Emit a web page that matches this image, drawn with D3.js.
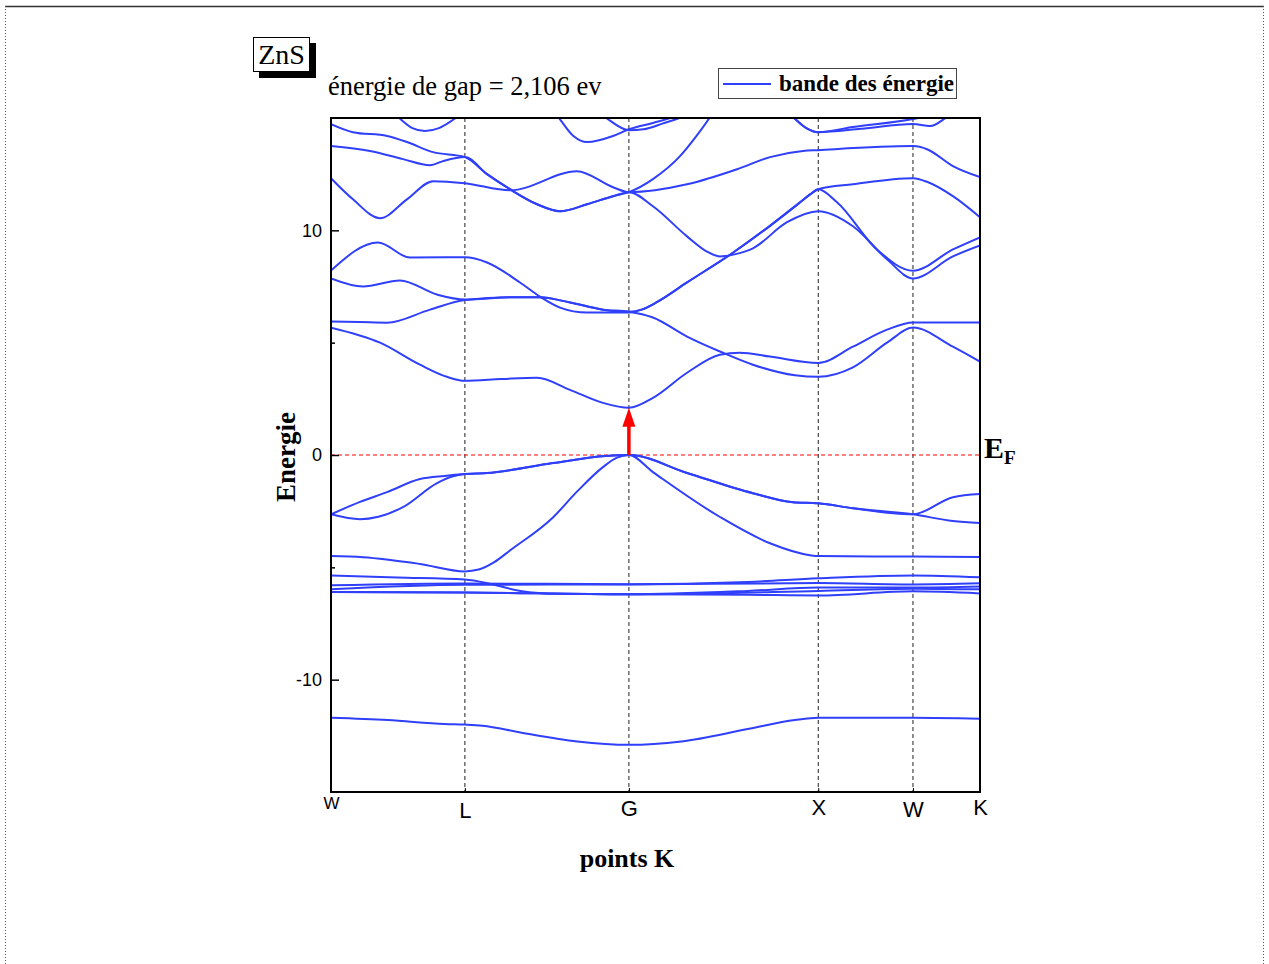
<!DOCTYPE html>
<html>
<head>
<meta charset="utf-8">
<script src="https://cdn.jsdelivr.net/npm/d3@7/dist/d3.min.js"></script>
<style>
  body { margin: 0; background: #fff; }
  svg { display: block; }
</style>
</head>
<body>
<svg id="bands" width="1269" height="964"></svg>
<script>
// high symmetry points along the path (units of 2pi/a)
const kTicks = [0, 0.707, 1.573, 2.573, 3.073, 3.427];
const kLabels = ["W", "L", "G", "X", "W", "K"];
const eTicks = [-10, 0, 10];
const eMinor = [-5, 5];
const gap = 2.106;

// bands : [k, E(eV)]
const bandS = [[0,-11.7],[0.3,-11.8],[0.6,-11.97],[0.707,-12.0],[0.8,-12.05],[1.0,-12.35],[1.3,-12.75],[1.573,-12.9],[1.85,-12.75],[2.2,-12.2],[2.45,-11.8],[2.573,-11.7],[3.073,-11.7],[3.427,-11.74]];

const bandD1 = [[0,-5.36],[0.35,-5.45],[0.707,-5.54],[0.85,-5.75],[1.0,-6.05],[1.2,-6.18],[1.573,-6.2],[2.2,-6.22],[2.573,-6.25],[3.073,-6.07],[3.427,-6.16]];
const bandD2 = [[0,-5.8],[0.707,-5.72],[1.573,-5.75],[2.2,-5.65],[2.573,-5.49],[3.073,-5.36],[3.427,-5.44]];
const bandD3 = [[0,-5.98],[0.707,-5.78],[1.573,-5.76],[2.573,-5.7],[3.073,-5.76],[3.427,-5.71]];
const bandD4 = [[0,-6.1],[0.707,-6.12],[1.573,-6.2],[2.2,-6.05],[2.573,-5.9],[3.073,-5.9],[3.427,-5.85]];
const bandD5 = [[0,-6.1],[0.707,-6.12],[1.573,-6.2],[2.573,-6.05],[3.073,-5.95],[3.427,-5.98]];

const bandV3 = [[0,-4.5],[0.169,-4.55],[0.47,-4.85],[0.707,-5.18],[0.78,-5.1],[0.86,-4.78],[0.95,-4.22],[1.172,-2.78],[1.3,-1.62],[1.436,-0.54],[1.51,-0.12],[1.573,0],[1.7,-0.76],[2.054,-2.76],[2.318,-3.93],[2.529,-4.46],[2.573,-4.5],[3.073,-4.52],[3.427,-4.54]];
const bandV2 = [[0,-2.64],[0.153,-2.86],[0.25,-2.75],[0.38,-2.32],[0.56,-1.25],[0.64,-0.96],[0.707,-0.85],[0.824,-0.8],[1.172,-0.36],[1.45,-0.04],[1.573,0],[1.88,-0.8],[2.228,-1.7],[2.439,-2.1],[2.573,-2.15],[2.756,-2.37],[3.073,-2.64],[3.284,-2.94],[3.427,-3.03]];
const bandV1 = [[0,-2.64],[0.15,-2.1],[0.296,-1.65],[0.47,-1.07],[0.6,-0.93],[0.707,-0.85],[0.824,-0.8],[1.172,-0.36],[1.45,-0.04],[1.573,0],[1.88,-0.8],[2.228,-1.7],[2.439,-2.1],[2.573,-2.15],[2.756,-2.37],[3.073,-2.64],[3.284,-1.88],[3.427,-1.74]];

const bandC1 = [[0,5.67],[0.259,5.0],[0.47,4.02],[0.612,3.48],[0.707,3.3],[0.9,3.38],[1.088,3.44],[1.262,2.9],[1.436,2.32],[1.573,2.1],[1.7,2.54],[1.88,3.66],[2.054,4.46],[2.159,4.55],[2.318,4.38],[2.573,4.1],[2.756,4.82],[2.936,5.58],[3.073,5.9],[3.427,5.9]];
const bandC2 = [[0,5.94],[0.15,5.92],[0.296,5.89],[0.523,6.47],[0.707,6.9],[0.95,7.02],[1.1,7.02],[1.262,6.79],[1.436,6.47],[1.573,6.38],[1.7,6.12],[1.88,5.27],[2.07,4.55],[2.228,4.02],[2.45,3.55],[2.573,3.48],[2.756,3.9],[2.936,5.0],[3.073,5.67],[3.284,4.82],[3.427,4.15]];
const bandC3 = [[0,7.86],[0.169,7.5],[0.364,7.77],[0.56,7.14],[0.707,6.92],[0.95,7.02],[1.1,7.02],[1.262,6.79],[1.436,6.47],[1.573,6.38],[1.64,6.47],[1.72,6.8],[1.88,7.68],[2.122,9.0],[2.318,10.2],[2.47,11.2],[2.53,11.6],[2.573,11.83],[2.756,12.05],[3.073,12.32],[3.15,12.15],[3.284,11.52],[3.427,10.58]];
const bandC4 = [[0,8.21],[0.248,9.46],[0.417,8.79],[0.707,8.8],[0.824,8.57],[0.998,7.68],[1.103,7.05],[1.209,6.56],[1.352,6.34],[1.573,6.34],[1.64,6.47],[1.72,6.8],[1.88,7.68],[2.122,9.0],[2.318,10.2],[2.47,11.2],[2.53,11.6],[2.573,11.83],[2.672,11.25],[2.883,9.15],[3.073,8.2],[3.284,9.15],[3.427,9.69]];
const bandC5 = [[0,13.75],[0.206,13.53],[0.38,13.17],[0.523,12.9],[0.591,13.08],[0.707,13.26],[0.824,12.5],[0.945,11.83],[1.088,11.16],[1.209,10.85],[1.352,11.16],[1.489,11.52],[1.573,11.7],[1.7,11.07],[1.88,9.73],[1.98,9.08],[2.054,8.84],[2.13,8.93],[2.228,9.2],[2.408,10.36],[2.573,10.85],[2.756,10.18],[2.936,8.71],[3.073,7.86],[3.284,8.84],[3.427,9.33]];
const bandC6 = [[0,12.32],[0.116,11.38],[0.259,10.54],[0.401,11.38],[0.539,12.19],[0.707,12.1],[0.945,11.78],[1.299,12.63],[1.489,11.92],[1.573,11.7],[1.88,12.05],[2.144,12.72],[2.318,13.26],[2.492,13.53],[2.573,13.57],[3.073,13.75],[3.15,13.6],[3.284,12.86],[3.427,12.37]];
const bandC7 = [[0,14.73],[0.116,14.37],[0.296,14.2],[0.401,13.93],[0.539,13.48],[0.707,13.26],[0.824,12.5],[0.945,11.83],[1.088,11.16],[1.209,10.85],[1.352,11.16],[1.489,11.52],[1.573,11.7],[1.7,12.28],[1.843,13.3],[1.93,14.2],[2.001,15.04],[2.1,16.5]];
const bandT1 = [[0.2,16.2],[0.354,15.04],[0.43,14.55],[0.496,14.42],[0.57,14.55],[0.665,15.04],[0.8,16],[1.0,16.3],[1.199,15.04],[1.28,14.2],[1.352,13.93],[1.489,14.2],[1.573,14.5],[1.7,14.78],[1.806,15.04],[1.95,15.6]];
const bandT2 = [[1.3,16],[1.447,15.04],[1.573,14.46],[1.65,14.5],[1.75,14.75],[1.85,15.04],[1.95,15.5]];
const bandT3 = [[2.3,16],[2.439,15.04],[2.51,14.55],[2.573,14.37],[2.756,14.6],[3.073,14.96],[3.15,15.1],[3.25,15.5]];
const bandT4 = [[2.3,16],[2.439,15.04],[2.51,14.55],[2.573,14.37],[2.8,14.52],[3.073,14.73],[3.163,14.64],[3.252,15.04],[3.35,15.6]];

const bands = [bandS, bandD1, bandD2, bandD3, bandD4, bandD5, bandV3, bandV2, bandV1,
               bandC1, bandC2, bandC3, bandC4, bandC5, bandC6, bandC7, bandT1, bandT2, bandT3, bandT4];

const blue = "#2f3ffa";
const serif = "'Liberation Serif','Times New Roman',serif";
const sans = "'Liberation Sans',Arial,sans-serif";

const svg = d3.select("#bands"),
      width = +svg.attr("width"),
      height = +svg.attr("height");

const margin = {left: 331, top: 118, right: 289, bottom: 172};
const w = width - margin.left - margin.right,
      h = height - margin.top - margin.bottom;

const x = d3.scaleLinear().domain([0, 3.427]).range([0, w]);
const y = d3.scaleLinear().domain([-15, 15]).range([h, 0]);

// page frame
svg.append("line").attr("x1", 5).attr("x2", 1264).attr("y1", 6.5).attr("y2", 6.5)
    .attr("stroke", "#333").attr("stroke-width", 1.5);
svg.append("line").attr("x1", 5.5).attr("x2", 5.5).attr("y1", 6).attr("y2", height)
    .attr("stroke", "#555").attr("stroke-dasharray", "1,2");
svg.append("line").attr("x1", 1263.5).attr("x2", 1263.5).attr("y1", 6).attr("y2", height)
    .attr("stroke", "#555").attr("stroke-dasharray", "1,2");

const g = svg.append("g").attr("transform", `translate(${margin.left},${margin.top})`);

g.append("clipPath").attr("id", "clip")
  .append("rect").attr("width", w).attr("height", h);

// vertical lines at high symmetry points
g.selectAll(".kline")
  .data(kTicks.slice(1, -1))
  .enter().append("line")
    .attr("x1", d => x(d)).attr("x2", d => x(d))
    .attr("y1", 0).attr("y2", h)
    .attr("stroke", "#222").attr("stroke-width", 1)
    .attr("stroke-dasharray", "4,3");

// Fermi level
g.append("line")
  .attr("x1", 0).attr("x2", w)
  .attr("y1", y(0)).attr("y2", y(0))
  .attr("stroke", "red").attr("stroke-width", 1)
  .attr("stroke-dasharray", "4,3");

const line = d3.line()
  .x(d => x(d[0]))
  .y(d => y(d[1]))
  .curve(d3.curveMonotoneX);

g.append("g").attr("clip-path", "url(#clip)")
  .selectAll("path")
  .data(bands)
  .enter().append("path")
    .attr("d", line)
    .attr("fill", "none")
    .attr("stroke", blue)
    .attr("stroke-width", 2);

// gap arrow
const ax = x(kTicks[2]);
g.append("line")
  .attr("x1", ax).attr("x2", ax)
  .attr("y1", y(0)).attr("y2", y(gap) + 14)
  .attr("stroke", "red").attr("stroke-width", 3.5);
g.append("path")
  .attr("d", `M${ax},${y(gap)} L${ax - 6.5},${y(gap) + 19} L${ax + 6.5},${y(gap) + 19} Z`)
  .attr("fill", "red");

// axes
const yAxis = g.append("g")
  .call(d3.axisLeft(y).tickValues(eTicks).tickSize(-8).tickPadding(9).tickFormat(d => String(d)));
yAxis.select(".domain").remove();
yAxis.selectAll("text").attr("font-family", sans).attr("font-size", 18).attr("fill", "#000");
yAxis.selectAll("line").attr("stroke-width", 1.5);

const yMinor = g.append("g")
  .call(d3.axisLeft(y).tickValues(eMinor).tickSize(-4).tickFormat(""));
yMinor.select(".domain").remove();
yMinor.selectAll("line").attr("stroke-width", 1.5);

const kLabelSize = [17, 22, 22, 22, 22, 22];
const kLabelShift = [-3, 2, 0, -1, 1, -1];
const xAxis = g.append("g")
  .attr("transform", `translate(0,${h})`)
  .call(d3.axisBottom(x).tickValues(kTicks).tickSize(-4).tickPadding(8).tickFormat((d, i) => kLabels[i]));
xAxis.select(".domain").remove();
xAxis.selectAll("text")
  .attr("font-family", sans)
  .attr("fill", "#000")
  .attr("font-size", (d, i) => kLabelSize[i])
  .attr("y", (d, i) => 8 + kLabelShift[i]);

// frame
g.append("rect")
  .attr("width", w).attr("height", h)
  .attr("fill", "none").attr("stroke", "#000").attr("stroke-width", 2);

// axis titles
svg.append("text")
  .attr("transform", `translate(295,${margin.top + h / 2 + 2}) rotate(-90)`)
  .attr("text-anchor", "middle")
  .attr("font-family", serif).attr("font-weight", "bold").attr("font-size", 27)
  .text("Energie");

svg.append("text")
  .attr("x", 627).attr("y", 867)
  .attr("text-anchor", "middle")
  .attr("font-family", serif).attr("font-weight", "bold").attr("font-size", 26)
  .text("points K");

// E_F label
const ef = svg.append("text")
  .attr("x", 984).attr("y", 458)
  .attr("font-family", serif).attr("font-weight", "bold").attr("font-size", 30);
ef.append("tspan").text("E");
ef.append("tspan").attr("dy", 6).attr("font-size", 19).text("F");

// ZnS box with shadow
svg.append("rect").attr("x", 259).attr("y", 43).attr("width", 57).attr("height", 35).attr("fill", "#000");
svg.append("rect").attr("x", 253.5).attr("y", 37.5).attr("width", 56).attr("height", 34)
  .attr("fill", "#fff").attr("stroke", "#000").attr("stroke-width", 1);
svg.append("text")
  .attr("x", 281.5).attr("y", 64)
  .attr("text-anchor", "middle")
  .attr("font-family", serif).attr("font-size", 28)
  .text("ZnS");

svg.append("text")
  .attr("x", 328).attr("y", 95)
  .attr("font-family", serif).attr("font-size", 26.5)
  .text("énergie de gap = 2,106 ev");

// legend
const legend = svg.append("g");
legend.append("rect")
  .attr("x", 718.5).attr("y", 68.5).attr("width", 238).attr("height", 30)
  .attr("fill", "#fff").attr("stroke", "#444").attr("stroke-width", 1);
legend.append("line")
  .attr("x1", 723).attr("x2", 771).attr("y1", 84).attr("y2", 84)
  .attr("stroke", blue).attr("stroke-width", 2);
legend.append("text")
  .attr("x", 779).attr("y", 91)
  .attr("font-family", serif).attr("font-weight", "bold").attr("font-size", 23)
  .text("bande des énergie");
</script>
</body>
</html>
